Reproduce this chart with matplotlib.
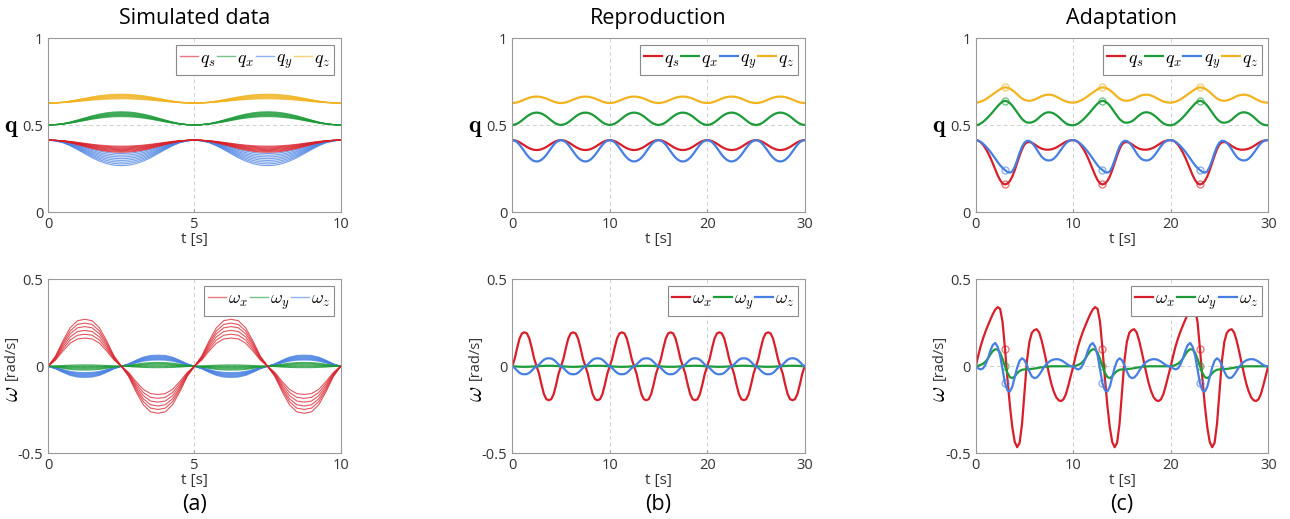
import numpy as np
import matplotlib.pyplot as plt
from matplotlib.lines import Line2D

plt.rcParams['font.family'] = ['Open Sans', 'DejaVu Sans']
plt.rcParams['mathtext.fontset'] = 'cm'
plt.rcParams['axes.unicode_minus'] = False

RED, GREEN, BLUE, YELLOW = '#d81e28', '#1c9b38', '#467fe2', '#f1b420'

# ---------------- (a) simulated demonstrations ----------------
# normalised profiles over half a period (0 .. 2.5 s, step 0.25 s)
q_rise = [0, 0.03, 0.10, 0.22, 0.37, 0.53, 0.69, 0.82, 0.92, 0.98, 1.0]
w_lobe = [0, 0.22, 0.54, 0.82, 0.97, 1.0, 0.97, 0.82, 0.54, 0.22, 0]

# start value of each quaternion component
qs_start, qx_start, qy_start, qz_start = 0.415, 0.502, 0.415, 0.628

# value reached at t = 2.5 s by each demonstration
qs_sim_peak = [0.380, 0.375, 0.370, 0.365, 0.360, 0.355, 0.350, 0.345]
qx_sim_peak = [0.550, 0.554, 0.558, 0.562, 0.566, 0.570, 0.574, 0.578]
qy_sim_peak = [0.338, 0.328, 0.318, 0.308, 0.298, 0.288, 0.278, 0.268]
qz_sim_peak = [0.652, 0.656, 0.660, 0.664, 0.668, 0.672, 0.676, 0.679]

# angular velocity at t = 1.25 s for each demonstration
wx_sim_amp = [0.270, 0.248, 0.228, 0.206, 0.184, 0.162]
wy_sim_amp = [-0.022, -0.017, -0.012, -0.007, -0.002, 0.003, 0.008]
wz_sim_amp = [-0.036, -0.040, -0.044, -0.048, -0.052, -0.056, -0.060, -0.064]

# ---------------- (b) reproduction ----------------
qs_rep_peak, qx_rep_peak, qy_rep_peak, qz_rep_peak = 0.358, 0.573, 0.292, 0.665
wx_rep_amp, wy_rep_amp, wz_rep_amp = 0.195, -0.003, -0.046

# ---------------- (c) adaptation, one 10 s cycle, step 0.25 s ----------------
qs_ad = [0.415, 0.412, 0.403, 0.388, 0.368, 0.343, 0.314, 0.281, 0.247, 0.213,
         0.185, 0.166, 0.160, 0.165, 0.180, 0.206, 0.242, 0.284, 0.326, 0.363,
         0.390, 0.402, 0.404, 0.400, 0.392, 0.382, 0.373, 0.366, 0.362, 0.360,
         0.360, 0.362, 0.366, 0.372, 0.380, 0.389, 0.398, 0.406, 0.411, 0.414,
         0.415]
qx_ad = [0.500, 0.503, 0.510, 0.520, 0.532, 0.546, 0.561, 0.577, 0.594, 0.610,
         0.625, 0.636, 0.641, 0.637, 0.628, 0.613, 0.594, 0.574, 0.554, 0.536,
         0.524, 0.516, 0.515, 0.517, 0.523, 0.532, 0.545, 0.557, 0.567, 0.573,
         0.575, 0.573, 0.568, 0.559, 0.548, 0.535, 0.522, 0.511, 0.504, 0.501,
         0.500]
qy_ad = [0.415, 0.412, 0.405, 0.394, 0.381, 0.365, 0.348, 0.329, 0.309, 0.289,
         0.270, 0.255, 0.243, 0.232, 0.228, 0.235, 0.262, 0.300, 0.342, 0.378,
         0.401, 0.411, 0.410, 0.400, 0.383, 0.362, 0.340, 0.320, 0.307, 0.300,
         0.298, 0.300, 0.308, 0.322, 0.340, 0.360, 0.380, 0.397, 0.408, 0.414,
         0.415]
qz_ad = [0.630, 0.632, 0.636, 0.642, 0.649, 0.658, 0.668, 0.678, 0.688, 0.698,
         0.707, 0.715, 0.718, 0.716, 0.711, 0.702, 0.691, 0.678, 0.665, 0.654,
         0.646, 0.642, 0.641, 0.643, 0.647, 0.653, 0.660, 0.667, 0.672, 0.675,
         0.676, 0.675, 0.671, 0.665, 0.658, 0.650, 0.643, 0.637, 0.633, 0.631,
         0.630]
wx_ad = [0.000, 0.060, 0.115, 0.160, 0.200, 0.235, 0.268, 0.300, 0.326, 0.340,
         0.330, 0.255, 0.100, -0.070, -0.225, -0.350, -0.435, -0.465, -0.440, -0.330,
         -0.150, 0.030, 0.140, 0.192, 0.208, 0.213, 0.195, 0.150, 0.090, 0.025,
         -0.040, -0.100, -0.145, -0.178, -0.195, -0.200, -0.190, -0.160, -0.110, -0.055,
         0.000]
wy_ad = [0.000, 0.003, 0.008, 0.015, 0.027, 0.045, 0.068, 0.088, 0.098, 0.096,
         0.078, 0.042, 0.000, -0.038, -0.062, -0.068, -0.058, -0.040, -0.027, -0.020,
         -0.018, -0.017, -0.016, -0.015, -0.013, -0.011, -0.008, -0.006, -0.004, -0.002,
         -0.001, 0.000, 0.000, 0.000, 0.000, 0.000, 0.000, 0.000, 0.000, 0.000,
         0.000]
wz_ad = [0.000, -0.012, -0.018, -0.012, 0.010, 0.045, 0.090, 0.122, 0.134, 0.112,
         0.062, -0.018, -0.098, -0.138, -0.145, -0.118, -0.062, -0.008, 0.032, 0.046,
         0.035, 0.006, -0.030, -0.058, -0.068, -0.065, -0.050, -0.028, -0.005, 0.012,
         0.025, 0.034, 0.039, 0.041, 0.040, 0.035, 0.027, 0.017, 0.007, 0.001,
         0.000]
t_via = [3, 13, 23]   # via-point times
i_via = 12            # index of t = 3 s inside a cycle

dt = 0.25


def q_period(rise):
    rise = np.asarray(rise)
    return np.concatenate([rise, rise[::-1][1:]])


def w_period(lobe):
    lobe = np.asarray(lobe)
    return np.concatenate([lobe, -lobe[1:]])


def repeat(cycle, n):
    cycle = np.asarray(cycle)
    return np.concatenate([cycle] + [cycle[1:]] * (n - 1))


def style(ax, xmax, xticks, ylim, yticks, yticklabels):
    ax.set_xlim(0, xmax)
    ax.set_ylim(*ylim)
    ax.set_xticks(xticks)
    ax.set_xticklabels([str(v) for v in xticks])
    ax.set_yticks(yticks)
    ax.set_yticklabels(yticklabels)
    ax.grid(True, color='#cfcfcf', ls=(0, (4, 3)), lw=0.7)
    ax.set_axisbelow(True)
    for s in ax.spines.values():
        s.set_color('#9a9a9a')
        s.set_linewidth(0.8)
    ax.tick_params(direction='in', length=2.5, color='#9a9a9a', labelsize=10.5,
                   labelcolor='#333333', pad=3.5)
    ax.set_xlabel('t [s]', fontsize=11, color='#333333', labelpad=0)


def legend(ax, colors, labels, lw, alpha=1.0):
    handles = [Line2D([], [], color=c, lw=lw, alpha=alpha) for c in colors]
    leg = ax.legend(handles, labels, loc='upper right', ncol=len(labels),
                    fontsize=13, fancybox=False, edgecolor='#8a8a8a',
                    handlelength=1.0, handletextpad=0.12, columnspacing=0.1,
                    borderpad=0.22, borderaxespad=0.35, framealpha=1)
    leg.get_frame().set_linewidth(0.8)


def q_label(ax):
    ax.text(-0.125, 0.49, r'$\mathbf{q}$', transform=ax.transAxes, fontsize=17,
            ha='center', va='center')


def w_label(ax):
    ax.text(-0.125, 0.34, r'$\omega$', transform=ax.transAxes, fontsize=17,
            ha='center', va='center', rotation=90)
    ax.text(-0.125, 0.55, '[rad/s]', transform=ax.transAxes, fontsize=10.5,
            ha='center', va='center', rotation=90, color='#333333')


fig = plt.figure(figsize=(12.9, 5.19), dpi=100)
lefts = [0.0374, 0.3971, 0.7564]
w_ax, h_ax = 0.2267, 0.3353
axes_q = [fig.add_axes([l, 0.5909, w_ax, h_ax]) for l in lefts]
axes_w = [fig.add_axes([l, 0.1266, w_ax, h_ax]) for l in lefts]

q_labels = [r'$q_s$', r'$q_x$', r'$q_y$', r'$q_z$']
w_labels = [r'$\omega_x$', r'$\omega_y$', r'$\omega_z$']
q_yt = ([0, 0.5, 1], ['0', '0.5', '1'])
w_yt = ([-0.5, 0, 0.5], ['-0.5', '0', '0.5'])

# (a)
t_a = np.arange(41) * dt
shape_q = repeat(q_period(q_rise), 2)
shape_w = repeat(w_period(w_lobe), 2)
ax = axes_q[0]
for start, peaks, col in [(qy_start, qy_sim_peak, BLUE), (qs_start, qs_sim_peak, RED),
                          (qx_start, qx_sim_peak, GREEN), (qz_start, qz_sim_peak, YELLOW)]:
    for p in peaks:
        ax.plot(t_a, start + (p - start) * shape_q, color=col, lw=0.8, alpha=0.75)
style(ax, 10, [0, 5, 10], (0, 1), *q_yt)
legend(ax, [RED, GREEN, BLUE, YELLOW], q_labels, 1.0, 0.6)
q_label(ax)

ax = axes_w[0]
for amps, col in [(wz_sim_amp, BLUE), (wy_sim_amp, GREEN), (wx_sim_amp, RED)]:
    for a in amps:
        ax.plot(t_a, a * shape_w, color=col, lw=0.8, alpha=0.75)
style(ax, 10, [0, 5, 10], (-0.5, 0.5), *w_yt)
legend(ax, [RED, GREEN, BLUE], w_labels, 1.0, 0.6)
w_label(ax)

# (b)
t_b = np.arange(121) * dt
shape_q = repeat(q_period(q_rise), 6)
shape_w = repeat(w_period(w_lobe), 6)
ax = axes_q[1]
for start, peak, col in [(qs_start, qs_rep_peak, RED), (qx_start, qx_rep_peak, GREEN),
                         (qy_start, qy_rep_peak, BLUE), (qz_start, qz_rep_peak, YELLOW)]:
    ax.plot(t_b, start + (peak - start) * shape_q, color=col, lw=1.6)
style(ax, 30, [0, 10, 20, 30], (0, 1), *q_yt)
legend(ax, [RED, GREEN, BLUE, YELLOW], q_labels, 1.6)
q_label(ax)

ax = axes_w[1]
for amp, col in [(wx_rep_amp, RED), (wy_rep_amp, GREEN), (wz_rep_amp, BLUE)]:
    ax.plot(t_b, amp * shape_w, color=col, lw=1.6)
style(ax, 30, [0, 10, 20, 30], (-0.5, 0.5), *w_yt)
legend(ax, [RED, GREEN, BLUE], w_labels, 1.6)
w_label(ax)

# (c)
t_c = np.arange(121) * dt
ax = axes_q[2]
for cyc, col in [(qs_ad, RED), (qx_ad, GREEN), (qy_ad, BLUE), (qz_ad, YELLOW)]:
    ax.plot(t_c, repeat(cyc, 3), color=col, lw=1.6)
    ax.plot(t_via, [cyc[i_via]] * 3, 'o', color=col, mfc='none', ms=5, mew=1, alpha=0.6)
style(ax, 30, [0, 10, 20, 30], (0, 1), *q_yt)
legend(ax, [RED, GREEN, BLUE, YELLOW], q_labels, 1.6)
q_label(ax)

ax = axes_w[2]
for cyc, col in [(wx_ad, RED), (wy_ad, GREEN), (wz_ad, BLUE)]:
    ax.plot(t_c, repeat(cyc, 3), color=col, lw=1.6)
    ax.plot(t_via, [cyc[i_via]] * 3, 'o', color=col, mfc='none', ms=5, mew=1, alpha=0.6)
style(ax, 30, [0, 10, 20, 30], (-0.5, 0.5), *w_yt)
legend(ax, [RED, GREEN, BLUE], w_labels, 1.6)
w_label(ax)

titles = ['Simulated data', 'Reproduction', 'Adaptation']
tags = ['(a)', '(b)', '(c)']
for l, title, tag in zip(lefts, titles, tags):
    fig.text(l + w_ax / 2, 0.965, title, ha='center', va='center', fontsize=15.5)
    fig.text(l + w_ax / 2, 0.027, tag, ha='center', va='center', fontsize=15.5)

fig.savefig('out.png', dpi=100)
